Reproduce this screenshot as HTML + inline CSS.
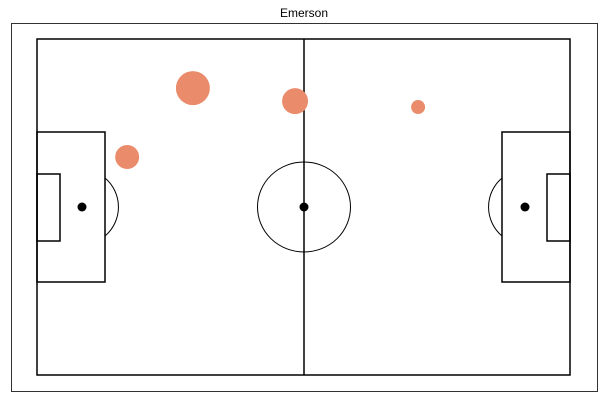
<!DOCTYPE html>
<html><head><meta charset="utf-8"><style>
body{margin:0;background:#fff;width:603px;height:403px;overflow:hidden;font-family:"Liberation Sans",sans-serif}
</style></head><body>
<svg width="603" height="403">
<text x="304" y="17" text-anchor="middle" font-size="12">Emerson</text>
<rect x="11.5" y="23.5" width="586" height="368" fill="none" stroke="#000" stroke-width="0.8"/>
<g fill="none" stroke="#000" stroke-width="1.5">
<rect x="37" y="39" width="533" height="336"/>
<line x1="304" y1="39" x2="304" y2="375"/>
<rect x="37" y="132" width="68" height="150"/>
<rect x="37" y="174" width="23" height="67"/>
<rect x="502" y="132" width="68" height="150"/>
<rect x="547" y="174" width="23" height="67"/>
</g>
<g fill="none" stroke="#000" stroke-width="1">
<ellipse cx="304" cy="207" rx="46.5" ry="45"/>
<path d="M105 178 A38 38 0 0 1 105 236"/>
<path d="M502 178 A38 38 0 0 0 502 236"/>
</g>
<circle cx="82" cy="207" r="4.5"/>
<circle cx="304" cy="207" r="4.5"/>
<circle cx="525" cy="207" r="4.5"/>
<g id="bubbles"></g>
</svg>
<script>
const xs=[35.1,58.1,85.8,20.3];
const ys=[11.7,14.8,16.2,28.1];
const sizes=[17,13,7,12];
const sx=v=>37+v*533/120, sy=v=>39+v*336/80;
const g=document.getElementById('bubbles');
for(let i=0;i<xs.length;i++){
 const c=document.createElementNS('http://www.w3.org/2000/svg','circle');
 c.setAttribute('cx',sx(xs[i]));c.setAttribute('cy',sy(ys[i]));c.setAttribute('r',sizes[i]);
 c.setAttribute('fill','#ea8c6b');
 
 
 g.appendChild(c);
}
</script>
</body></html>
